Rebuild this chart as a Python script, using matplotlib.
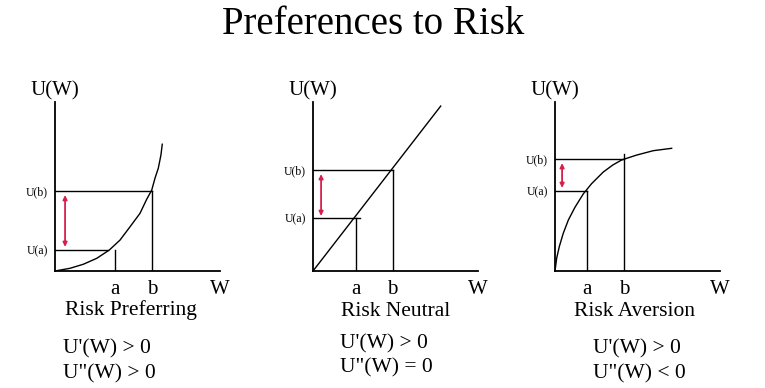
import numpy as np
import matplotlib
matplotlib.use('Agg')
import matplotlib.pyplot as plt

plt.rcParams['font.family'] = ['Liberation Serif', 'DejaVu Serif']

# figure size in pixels (dpi 100)
fig_w, fig_h = 765, 388

# risk preferring: convex utility curve
pref_w = [0.0, 0.91, 1.72, 2.53, 3.29, 3.94, 4.55, 5.15, 5.56, 5.86, 6.06, 6.26, 6.42, 6.50]
pref_u = [0.0, 0.16, 0.40, 0.75, 1.24, 1.83, 2.62, 3.41, 4.25, 4.78, 5.49, 6.08, 6.86, 7.50]
pref_a, pref_b = 3.64, 5.88
pref_ua, pref_ub = 1.24, 4.73

# risk neutral: straight line
neut_w = [0.0, 7.74]
neut_u = [0.0, 9.76]
neut_a, neut_b = 2.59, 4.82
neut_ua, neut_ub = 3.14, 5.98

# risk aversion: concave utility curve
avers_w = [0.0, 0.10, 0.26, 0.50, 0.81, 1.21, 1.72, 2.22, 2.93, 3.50, 4.04, 4.95, 5.96, 7.07]
avers_u = [0.0, 0.75, 1.44, 2.23, 3.02, 3.77, 4.57, 5.17, 5.86, 6.27, 6.57, 6.86, 7.12, 7.26]
avers_a, avers_b = 1.95, 4.21
avers_ua, avers_ub = 4.73, 6.63

titles = ['Risk Preferring', 'Risk Neutral', 'Risk Aversion']
first_deriv = ["U'(W) > 0", "U'(W) > 0", "U'(W) > 0"]
second_deriv = ['U"(W) > 0', 'U"(W) = 0', 'U"(W) < 0']

red = '#d81e4f'


def draw_panel(ax, w, u, a, b, ua, ub, ua_end, b_top, arrow_x, arrow_y):
    ax.set_xlim(0, 10)
    ax.set_ylim(0, 10)
    for side in ['top', 'right']:
        ax.spines[side].set_visible(False)
    for side in ['left', 'bottom']:
        ax.spines[side].set_linewidth(1.3)
    ax.patch.set_alpha(0)
    ax.plot(w, u, color='k', lw=1.0, solid_joinstyle='round')
    # guide lines
    ax.plot([0, ua_end], [ua, ua], color='k', lw=1.0)
    ax.plot([a, a], [0, ua], color='k', lw=1.0)
    ax.plot([0, b], [ub, ub], color='k', lw=1.0)
    ax.plot([b, b], [0, b_top], color='k', lw=1.0)
    ax.annotate('', xy=(arrow_x, arrow_y[0]), xytext=(arrow_x, arrow_y[1]),
                arrowprops=dict(arrowstyle='<|-|>,head_length=0.25,head_width=0.12',
                                color=red, lw=1.3, shrinkA=0, shrinkB=0))
    ax.set_xticks([a, b, 10])
    ax.set_xticklabels(['a', 'b', 'W'], fontsize=15)
    ax.set_yticks([ua, ub])
    ax.set_yticklabels(['U(a)', 'U(b)'], fontsize=8.5)
    ax.tick_params(length=0)
    ax.tick_params(axis='x', pad=6.5)
    ax.tick_params(axis='y', pad=5)
    ax.annotate('U(W)', xy=(0, 10), xytext=(0, 1), textcoords='offset points',
                ha='center', va='bottom', fontsize=15, annotation_clip=False)


fig = plt.figure(figsize=(fig_w / 100, fig_h / 100), dpi=100)


def panel_axes(ox):
    return fig.add_axes([ox / fig_w, (fig_h - 271) / fig_h, 165 / fig_w, 169 / fig_h])


ax1 = panel_axes(55)
draw_panel(ax1, pref_w, pref_u, pref_a, pref_b, pref_ua, pref_ub,
           3.21, pref_ub, 0.61, (4.50, 1.42))
ax2 = panel_axes(313)
draw_panel(ax2, neut_w, neut_u, neut_a, neut_b, neut_ua, neut_ub,
           2.87, neut_ub, 0.49, (5.74, 3.25))
ax3 = panel_axes(555)
draw_panel(ax3, avers_w, avers_u, avers_a, avers_b, avers_ua, avers_ub,
           avers_a, 6.92, 0.43, (6.39, 4.91))

fig.text(373 / fig_w, 1 - 34 / fig_h, 'Preferences to Risk', ha='center',
         va='baseline', fontsize=28)

name_x = [131, 396, 634]
name_y = [310, 312, 312]
deriv_x = [63, 340, 593]
deriv_y1 = [349, 344, 349]
deriv_y2 = [374, 368, 374]
for i in range(3):
    fig.text(name_x[i] / fig_w, 1 - name_y[i] / fig_h, titles[i], ha='center',
             va='center', fontsize=15.5)
    fig.text(deriv_x[i] / fig_w, 1 - deriv_y1[i] / fig_h, first_deriv[i],
             ha='left', va='center', fontsize=15.5)
    fig.text(deriv_x[i] / fig_w, 1 - deriv_y2[i] / fig_h, second_deriv[i],
             ha='left', va='center', fontsize=15.5)

fig.savefig('out.png', dpi=100)
